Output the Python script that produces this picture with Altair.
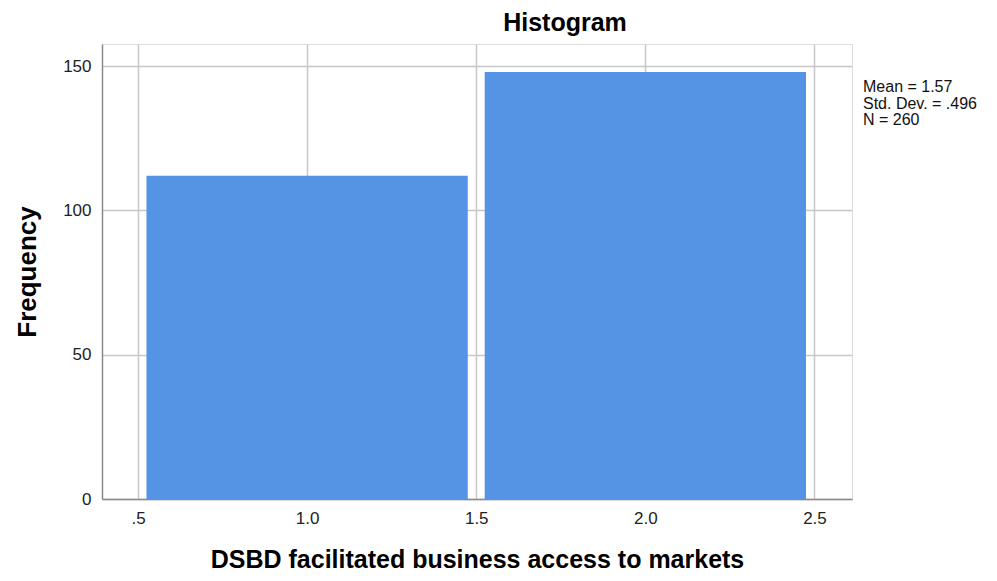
import altair as alt
import pandas as pd

# ---- data ----
values = [1, 2]
counts = [112, 148]
x_ticks = [0.5, 1.0, 1.5, 2.0, 2.5]
x_tick_labels = [".5", "1.0", "1.5", "2.0", "2.5"]
y_ticks = [0, 50, 100, 150]
stats_lines = ["Mean = 1.57", "Std. Dev. = .496", "N = 260"]
x_title = "DSBD facilitated business access to markets"
y_title = "Frequency"
chart_title = "Histogram"

df = pd.DataFrame({"value": values, "count": counts})

FONT = "Liberation Sans"
BAR_COLOR = "#5594e4"
GRID = "#c8c8c8"
DOMAIN = "#8a8a8a"
HALF = 0.475

label_expr = ""
for v, lab in zip(x_ticks, x_tick_labels):
    label_expr += f"abs(datum.value - {v}) < 1e-6 ? '{lab}' : "
label_expr += "''"

bars = (
    alt.Chart(df)
    .transform_calculate(x0=f"datum.value - {HALF}", x1=f"datum.value + {HALF}")
    .mark_bar(color=BAR_COLOR)
    .encode(
        x=alt.X(
            "x0:Q",
            scale=alt.Scale(domain=[0.3935, 2.611], nice=False, zero=False),
            axis=alt.Axis(
                values=x_ticks,
                labelExpr=label_expr,
                title=x_title,
                grid=True,
                gridColor=GRID,
                gridWidth=1.5,
                domainColor=DOMAIN,
                domainWidth=1.5,
                ticks=False,
                labelFont=FONT,
                labelFontSize=17,
                labelColor="#222222",
                labelPadding=11,
                titleFont=FONT,
                titleFontSize=25,
                titleFontWeight="bold",
                titleColor="#000000",
                titlePadding=21,
            ),
        ),
        x2="x1:Q",
        y=alt.Y(
            "count:Q",
            scale=alt.Scale(domain=[0, 157.7], nice=False),
            axis=alt.Axis(
                values=y_ticks,
                format="d",
                title=y_title,
                grid=True,
                gridColor=GRID,
                gridWidth=1.5,
                domainColor=DOMAIN,
                domainWidth=1.5,
                ticks=False,
                labelFont=FONT,
                labelFontSize=17,
                labelColor="#222222",
                labelPadding=11,
                titleFont=FONT,
                titleFontSize=26,
                titleFontWeight="bold",
                titleColor="#000000",
                titlePadding=22,
            ),
        ),
        y2=alt.datum(0),
    )
)

stats = (
    alt.Chart(pd.DataFrame({"a": [0]}))
    .mark_text(
        text=stats_lines,
        align="left",
        baseline="alphabetic",
        font=FONT,
        fontSize=16,
        lineHeight=16.5,
        color="#111111",
    )
    .encode(x=alt.value(761), y=alt.value(48))
)

chart = (
    alt.layer(bars, stats)
    .properties(
        width=750,
        height=455,
        title=alt.TitleParams(
            chart_title,
            font=FONT,
            fontSize=25,
            fontWeight="bold",
            color="#000000",
            anchor="middle",
            dx=88,
            offset=8,
        ),
        autosize=alt.AutoSizeParams(type="none"),
        padding={"left": 94, "top": 36, "right": 137, "bottom": 74},
    )
    .configure_view(stroke=None)
    .configure(background="white")
)

chart.save("out.html", embed_options={"renderer": "svg", "actions": False})
